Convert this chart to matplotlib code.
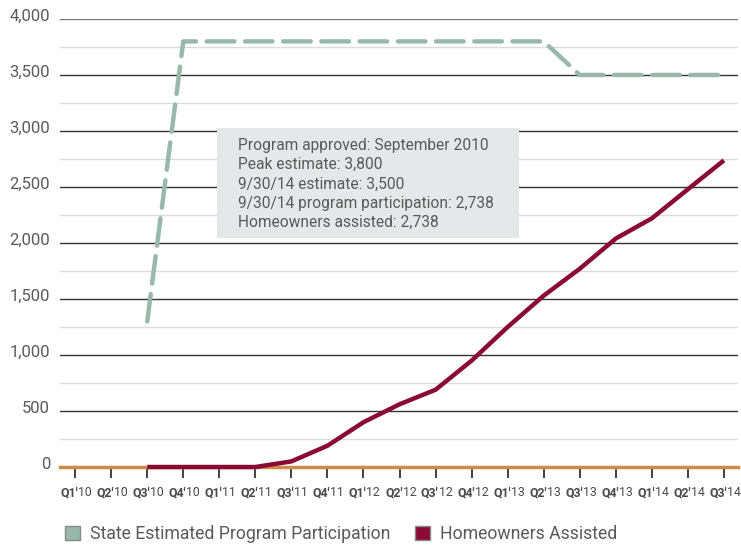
import matplotlib
matplotlib.use("Agg")
import matplotlib.pyplot as plt
from matplotlib.patches import Patch
import matplotlib.transforms as mtrans

quarters = ["Q1'10", "Q2'10", "Q3'10", "Q4'10", "Q1'11", "Q2'11", "Q3'11", "Q4'11",
            "Q1'12", "Q2'12", "Q3'12", "Q4'12", "Q1'13", "Q2'13", "Q3'13", "Q4'13",
            "Q1'14", "Q2'14", "Q3'14"]
estimated = [None, None, 1300, 3800, 3800, 3800, 3800, 3800, 3800, 3800, 3800, 3800,
             3800, 3800, 3500, 3500, 3500, 3500, 3500]
assisted = [None, None, 0, 0, 0, 0, 50, 190, 400, 560, 690, 950, 1250, 1530, 1770,
            2040, 2220, 2480, 2738]
y_ticks = [0, 500, 1000, 1500, 2000, 2500, 3000, 3500, 4000]
annotation = ["Program approved: September 2010", "Peak estimate: 3,800",
              "9/30/14 estimate: 3,500", "9/30/14 program participation: 2,738",
              "Homeowners assisted: 2,738"]

FONT = "Roboto"
TXT = "#5a5a5a"
GREEN = "#98b9aa"
RED = "#8a0a35"
ORANGE = "#cf8b45"

fig = plt.figure(figsize=(7.41, 5.45), dpi=100)
ax = fig.add_axes([60/741, (545-467)/545, (738-60)/741, (467-19)/545])

x_est = [i for i, v in enumerate(estimated) if v is not None]
y_est = [v for v in estimated if v is not None]
x_ast = [i for i, v in enumerate(assisted) if v is not None]
y_ast = [v for v in assisted if v is not None]

ax.set_xlim(-0.42, 18.39)
ax.set_ylim(0, 4000)

# grid
for v in range(250, 4000, 500):
    ax.axhline(v, color="#dcdcdc", lw=1, zorder=0)
for v in y_ticks[1:]:
    ax.axhline(v, color="#777777" if v == 4000 else "#333333", lw=1, zorder=0)

ax.axhline(0, color=ORANGE, lw=2.5, zorder=2, clip_on=False)

ax.plot(x_est, y_est, color=GREEN, lw=3.2, dashes=(6.2, 2.4), dash_capstyle="round",
        solid_joinstyle="round", zorder=3, clip_on=False)
ax.plot(x_ast, y_ast, color=RED, lw=3.2, solid_capstyle="butt", solid_joinstyle="round",
        zorder=4, clip_on=False)

for s in ax.spines.values():
    s.set_visible(False)

ax.set_yticks(y_ticks)
ax.set_yticklabels([])
ax.tick_params(axis="y", length=0)
ytr = mtrans.offset_copy(ax.get_yaxis_transform(), fig=fig, x=-10, y=-2, units="dots")
for v in y_ticks:
    ax.text(0, v, f"{v:,}", transform=ytr, ha="right", va="baseline", fontfamily=FONT,
            fontsize=12, color=TXT, clip_on=False)

ax.set_xticks(range(len(quarters)))
ax.set_xticklabels([])
ax.tick_params(axis="x", length=8, width=1.2, color="#222222", direction="out", pad=2)

for i, q in enumerate(quarters):
    bold, reg = q.split("'")
    tr = mtrans.offset_copy(ax.get_xaxis_transform(), fig=fig, x=3, y=-26, units="dots")
    ax.text(i, 0, bold + "'", transform=tr, ha="right", va="center", fontfamily=FONT,
            fontweight="bold", fontsize=8.8, color="#4a4a4a")
    ax.text(i, 0, reg, transform=tr, ha="left", va="center", fontfamily=FONT,
            fontsize=8.8, color="#4a4a4a")

# annotation box
fig.patches.append(plt.Rectangle((217/741, 1-238/545), (519-217)/741, (238-128)/545,
                                 transform=fig.transFigure, facecolor="#e6e7e8",
                                 edgecolor="none", zorder=5))
fig.text(238/741, 1-138/545, "\n".join(annotation), ha="left", va="top",
         fontfamily=FONT, fontsize=11.2, color=TXT, linespacing=1.35, zorder=6)

handles = [Patch(facecolor=GREEN, edgecolor="#888888", label="State Estimated Program Participation"),
           Patch(facecolor=RED, edgecolor="#888888", label="Homeowners Assisted")]
leg = fig.legend(handles=handles, loc="center left", bbox_to_anchor=(58/741, 1-534/545),
                 ncol=2, frameon=False, prop={"family": FONT, "size": 12.7},
                 handlelength=0.85, handleheight=0.85, handletextpad=0.55,
                 columnspacing=1.4, borderaxespad=0)
for t in leg.get_texts():
    t.set_color(TXT)

fig.savefig("out.png", dpi=100)
